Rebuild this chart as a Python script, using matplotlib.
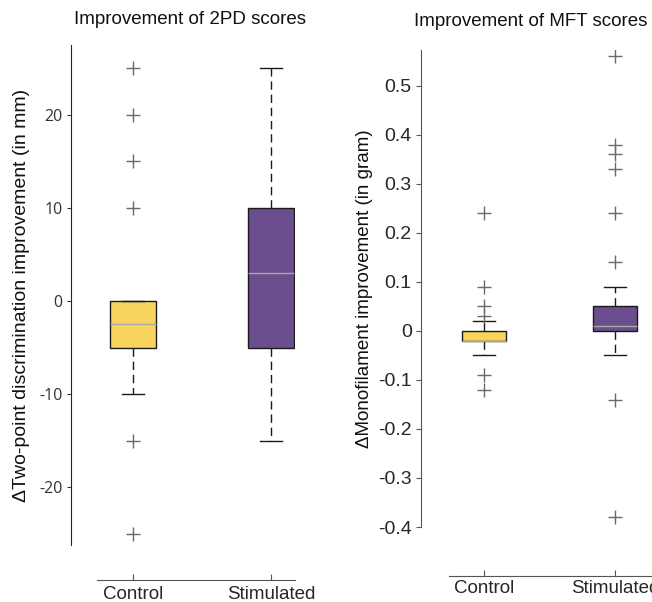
import matplotlib
matplotlib.use("Agg")
import matplotlib.pyplot as plt

# ---------------- data ----------------
groups = ["Control", "Stimulated"]

# 2PD improvement (mm): box statistics
tpd_q1 = [-5, -5]
tpd_med = [-2.5, 3]
tpd_q3 = [0, 10]
tpd_whislo = [-10, -15]
tpd_whishi = [0, 25]
tpd_fliers = [[25, 20, 15, 10, -15, -25], []]

# MFT improvement (gram)
mft_q1 = [-0.02, 0.0]
mft_med = [-0.02, 0.01]
mft_q3 = [0.0, 0.05]
mft_whislo = [-0.05, -0.05]
mft_whishi = [0.02, 0.09]
mft_fliers = [[0.24, 0.09, 0.05, 0.03, -0.09, -0.12],
              [0.56, 0.38, 0.36, 0.33, 0.24, 0.14, -0.14, -0.38]]

tpd_ticks = [-20, -10, 0, 10, 20]
mft_ticks = [-0.4, -0.3, -0.2, -0.1, 0, 0.1, 0.2, 0.3, 0.4, 0.5]
mft_ticklabels = ["-0.4", "-0.3", "-0.2", "-0.1", "0", "0.1", "0.2", "0.3", "0.4", "0.5"]

box_colors = ["#F8D45E", "#6A4E8D"]

W, H = 652, 602
PT = 72 / 100  # points per pixel at 100 dpi
fig = plt.figure(figsize=(W / 100, H / 100), dpi=100)


def make_stats(q1, med, q3, lo, hi, fl):
    out = []
    for i in range(len(q1)):
        out.append(dict(q1=q1[i], med=med[i], q3=q3[i], whislo=lo[i],
                        whishi=hi[i], fliers=fl[i], label=groups[i]))
    return out


def draw(ax, stats, width):
    bp = ax.bxp(stats, positions=[1, 2], widths=width, patch_artist=True,
                showfliers=True,
                boxprops=dict(edgecolor="#1a1a1a", linewidth=1.0),
                medianprops=dict(color="#a8a8a8", linewidth=1.0),
                whiskerprops=dict(color="#1a1a1a", linestyle=(0, (6, 3.5)), linewidth=1.0),
                capprops=dict(color="#1a1a1a", linewidth=1.0),
                capwidths=width * 0.5,
                flierprops=dict(marker="+", markersize=10, markeredgecolor="#6a6a6a",
                                markeredgewidth=1.0, linestyle="none"))
    for p, c in zip(bp["boxes"], box_colors):
        p.set_facecolor(c)
    return bp


def px2fig(x0, y0, x1, y1):
    return [x0 / W, 1 - y1 / H, (x1 - x0) / W, (y1 - y0) / H]


# ---------------- left axes ----------------
ax1 = fig.add_axes(px2fig(71, 45, 295, 545))
draw(ax1, make_stats(tpd_q1, tpd_med, tpd_q3, tpd_whislo, tpd_whishi, tpd_fliers), 0.33)
ax1.set_xlim(1 - (133 - 71) / 138, 2 + (295 - 271) / 138)
ax1.set_ylim(-26.2, 27.5)
ax1.spines["top"].set_visible(False)
ax1.spines["right"].set_visible(False)
ax1.spines["left"].set_color("#262626")
ax1.spines["bottom"].set_color("#555555")
ax1.spines["bottom"].set_position(("outward", 35 * PT))
ax1.spines["bottom"].set_bounds(1 - (133 - 97) / 138, 2 + (295 - 271) / 138)
ax1.tick_params(axis="y", direction="out", length=4 * PT, color="#333333", pad=3,
                labelsize=11.5, labelfontfamily="Open Sans", labelcolor="#333333")
ax1.tick_params(axis="x", direction="in", length=6 * PT, color="#555555", pad=4,
                labelsize=13.5, labelfontfamily="Liberation Sans", labelcolor="#262626")
ax1.set_yticks(tpd_ticks, [str(t) for t in tpd_ticks])
ax1.set_xticks([1, 2], groups)
ax1.set_ylabel("\u0394Two-point discrimination improvement (in mm)",
               fontfamily="Liberation Sans", fontsize=14, color="#111111", labelpad=7)
fig.text(190 / W, 1 - 19 / H, "Improvement of 2PD scores", fontfamily="Liberation Sans",
         fontsize=13.5, color="#111111", ha="center", va="center")

# ---------------- right axes ----------------
ax2 = fig.add_axes(px2fig(421, 50, 700, 527))
draw(ax2, make_stats(mft_q1, mft_med, mft_q3, mft_whislo, mft_whishi, mft_fliers), 0.336)
ax2.set_xlim(1 - (484 - 421) / 131, 1 + (700 - 484) / 131)
ax2.set_ylim(-0.4, 0.573)
ax2.spines["top"].set_visible(False)
ax2.spines["right"].set_visible(False)
ax2.spines["left"].set_color("#555555")
ax2.spines["bottom"].set_color("#555555")
ax2.spines["bottom"].set_position(("outward", 49 * PT))
ax2.spines["bottom"].set_bounds(1 - (484 - 449) / 131, 1 + (700 - 484) / 131)
ax2.tick_params(axis="y", direction="out", length=5 * PT, color="#555555", pad=3,
                labelsize=14, labelfontfamily="Liberation Sans", labelcolor="#262626")
ax2.tick_params(axis="x", direction="in", length=6 * PT, color="#555555", pad=3,
                labelsize=13.5, labelfontfamily="Liberation Sans", labelcolor="#262626")
ax2.set_yticks(mft_ticks, mft_ticklabels)
ax2.set_xticks([1, 2], groups)
ax2.set_ylabel("\u0394Monofilament improvement (in gram)",
               fontfamily="Liberation Sans", fontsize=13.5, color="#111111", labelpad=4)
fig.text(531 / W, 1 - 21 / H, "Improvement of MFT scores", fontfamily="Liberation Sans",
         fontsize=13.5, color="#111111", ha="center", va="center")

fig.savefig("out.png", dpi=100, facecolor="white")
